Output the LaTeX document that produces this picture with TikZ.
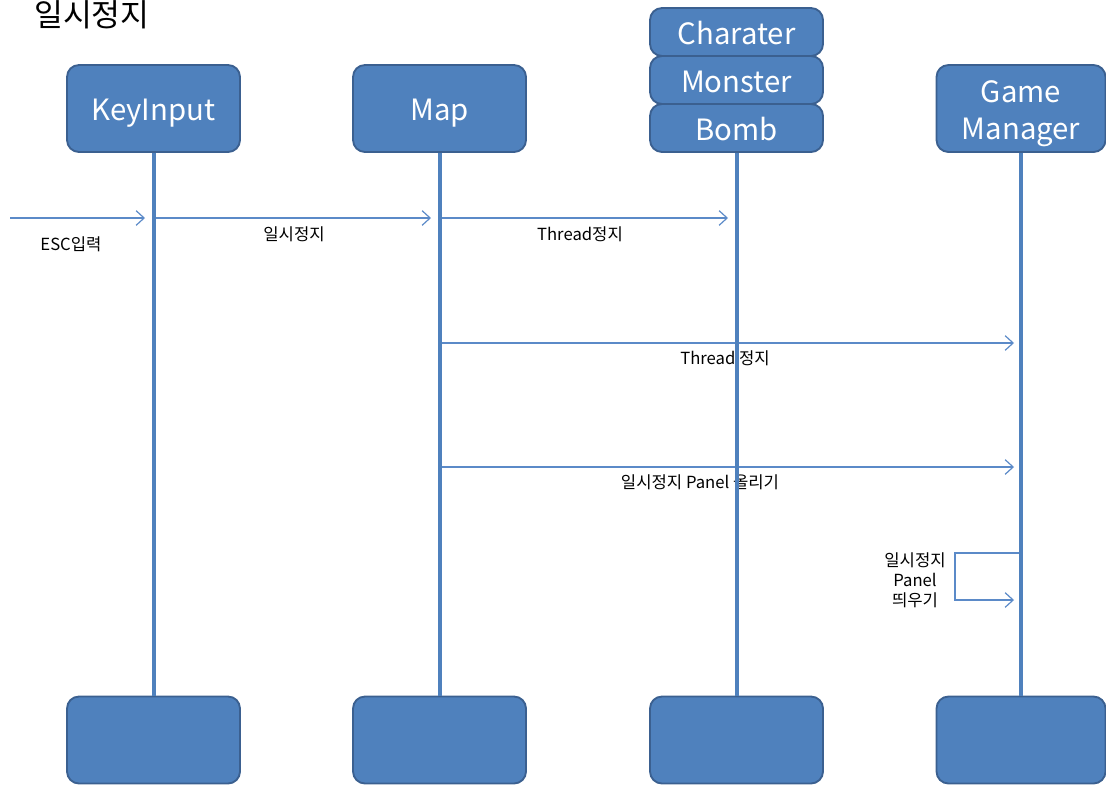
\documentclass[tikz,border=0pt]{standalone}
\usepackage{fontspec}
\setmainfont{Noto Sans CJK KR}
\usetikzlibrary{arrows.meta}
\definecolor{boxfill}{HTML}{4F81BD}
\definecolor{boxline}{HTML}{3B6090}
\definecolor{msgline}{HTML}{5B8AC8}
% lower a box text a little while keeping its size for centring
\newcommand{\lowertext}[2][3.4pt]{\raisebox{-#1}[\height][\depth]{#2}}
\begin{document}
\begin{tikzpicture}[x=0.75pt,y=-0.75pt,
  obj/.style={draw=boxline, line width=1.4pt, fill=boxfill, rounded corners=9pt,
    minimum width=129.75pt, minimum height=65.25pt, inner sep=0pt,
    text=white, font=\fontsize{22}{28}\selectfont},
  stackbox/.style={obj, minimum height=36pt},
  lifeline/.style={draw=boxfill, line width=3pt},
  msg/.style={draw=msgline, line width=0.9pt, -{Straight Barb[length=6pt,width=11pt,line width=0.9pt]}},
  msglabel/.style={font=\fontsize{12.5}{15}\selectfont, text=black, inner sep=0pt, align=center}]
\useasboundingbox (0,0) rectangle (1106,786);

% title
\node[anchor=base west, inner sep=0pt, font=\fontsize{23.5}{28}\selectfont] (title) at (34,26) {일시정지};

% messages (drawn first so lifelines sit on top)
\coordinate (escstart) at (10,218);
\coordinate (k1) at (145,218);
\coordinate (k2) at (155,218);
\coordinate (m1) at (431,218);
\coordinate (m2) at (441,218);
\coordinate (c1) at (728,218);
\coordinate (m3) at (441,343);
\coordinate (g1) at (1014,343);
\coordinate (m4) at (441,467);
\coordinate (g2) at (1014,467);
\coordinate (g3) at (1021,553);
\coordinate (g4) at (1014,600);

\draw[msg] (escstart) -- (k1);
\draw[msg] (k2) -- (m1);
\draw[msg] (m2) -- (c1);
\draw[msg] (m3) -- (g1);
\draw[msg] (m4) -- (g2);
\draw[msg] (g3) -- (955,553) -- (955,600) -- (g4);

\node[msglabel] (l1) at (71,244) {ESC입력};
\node[msglabel] (l2) at (294,234) {일시정지};
\node[msglabel] (l3) at (580,234) {Thread정지};
\node[msglabel] (l4) at (725,358) {Thread 정지};
\node[msglabel] (l5) at (700,482) {일시정지 Panel 올리기};
\node[msglabel] (l6) at (915,580) {일시정지\\Panel\\띄우기};

% participants
\node[obj] (key) at (153.5,108.5) {\lowertext{KeyInput}};
\node[obj] (map) at (439.5,108.5) {\lowertext{Map}};
\node[stackbox] (chr) at (736.5,32) {\lowertext[0.8pt]{Charater}};
\node[stackbox] (mon) at (736.5,80) {\lowertext[1.5pt]{Monster}};
\node[stackbox] (bomb) at (736.5,128) {\lowertext[0.8pt]{Bomb}};
\node[obj, minimum width=126.75pt] (gm) at (1021,108.5)
  {\lowertext[3.7pt]{\begin{tabular}{@{}c@{}}Game\\Manager\end{tabular}}};

\node[obj] (keyb) at (153.5,740) {};
\node[obj] (mapb) at (439.5,740) {};
\node[obj] (chrb) at (736.5,740) {};
\node[obj, minimum width=126.75pt] (gmb) at (1021,740) {};

% lifelines
\draw[lifeline] (key.south) -- (keyb.north);
\draw[lifeline] (map.south) -- (mapb.north);
\draw[lifeline] (bomb.south) -- (chrb.north);
\draw[lifeline] (gm.south) -- (gmb.north);
\end{tikzpicture}
\end{document}
